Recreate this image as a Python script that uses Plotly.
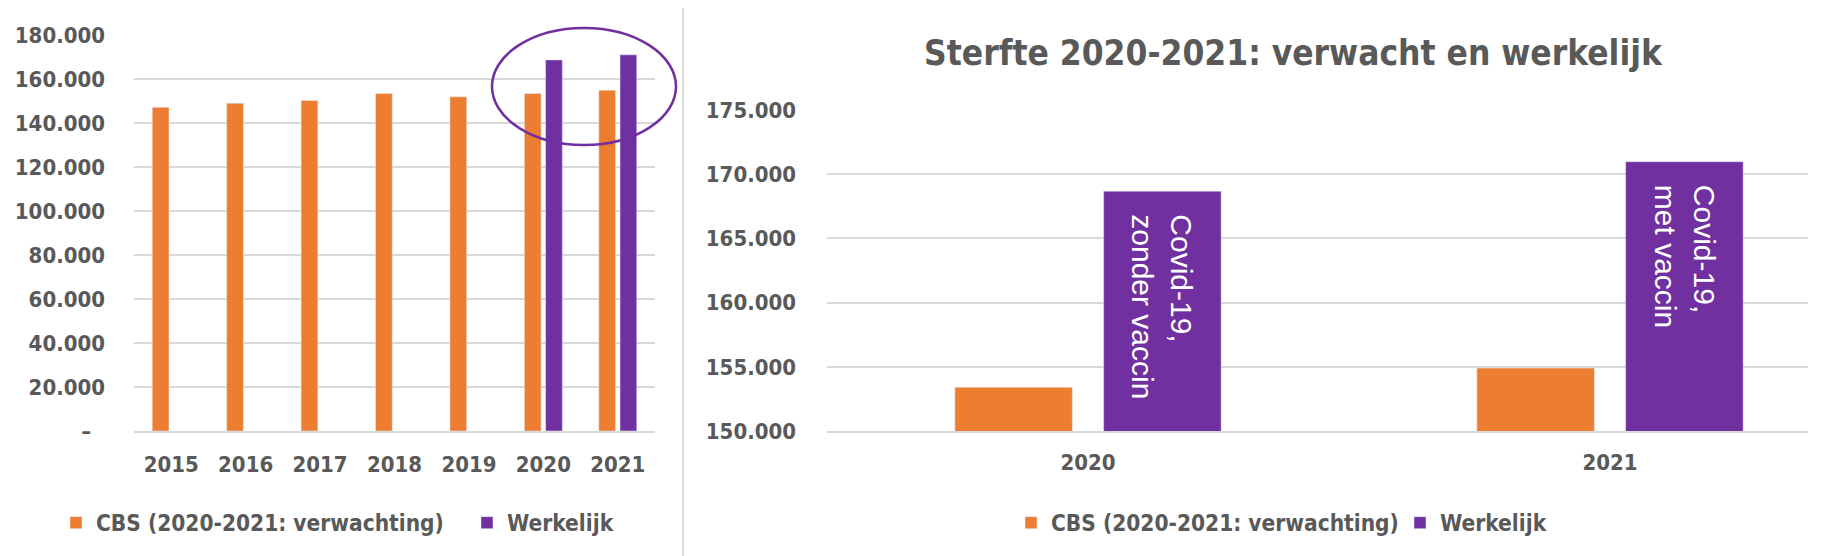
import plotly.graph_objects as go

# ---- data ----
years_all = ["2015", "2016", "2017", "2018", "2019", "2020", "2021"]
cbs_all = [147134, 148997, 150214, 153363, 151885, 153400, 154900]
werkelijk_all = [None, None, None, None, None, 168678, 170972]

years_zoom = ["2020", "2021"]
cbs_zoom = [153400, 154900]
werkelijk_zoom = [168678, 170972]
bar_labels = ["Covid-19,<br>zonder vaccin", "Covid-19,<br>met vaccin"]

left_ticks = [0, 20000, 40000, 60000, 80000, 100000, 120000, 140000, 160000, 180000]
left_ticktext = ["–\u00a0\u00a0", "20.000", "40.000", "60.000", "80.000", "100.000",
                 "120.000", "140.000", "160.000", "180.000"]
right_ticks = [150000, 155000, 160000, 165000, 170000, 175000]
right_ticktext = ["150.000", "155.000", "160.000", "165.000", "170.000", "175.000"]

series_names = ["CBS (2020-2021: verwachting)", "Werkelijk"]
title_text = "Sterfte 2020-2021: verwacht en werkelijk"

# ---- style ----
ORANGE = "#ED7D31"
PURPLE = "#7030A0"
GRID = "#D9D9D9"
TXT = "#595959"
FONT = "DejaVu Sans Condensed, Liberation Sans Narrow, sans-serif"
BARGAP = 0.43
BARGROUPGAP = 0.21

# page has an 8px body margin: figure sized so it fills the window exactly
OFF = 8
FW, FH = 1824 - OFF, 556 - OFF


def px(x):
    return (x - OFF) / FW


def py(y):
    return 1 - (y - OFF) / FH


fig = go.Figure()

fig.add_trace(go.Bar(x=years_all, y=cbs_all, name=series_names[0], marker_color=ORANGE,
                     xaxis="x", yaxis="y", legend="legend"))
fig.add_trace(go.Bar(x=years_all, y=werkelijk_all, name=series_names[1], marker_color=PURPLE,
                     xaxis="x", yaxis="y", legend="legend"))
fig.add_trace(go.Bar(x=years_zoom, y=cbs_zoom, name=series_names[0], marker_color=ORANGE,
                     xaxis="x2", yaxis="y2", legend="legend2"))
fig.add_trace(go.Bar(x=years_zoom, y=werkelijk_zoom, name=series_names[1], marker_color=PURPLE,
                     xaxis="x2", yaxis="y2", legend="legend2"))

# rotated labels inside the purple bars
offset = (1 - BARGAP) / 4
for i, (val, lab) in enumerate(zip(werkelijk_zoom, bar_labels)):
    fig.add_annotation(x=i + offset, y=val, xref="x2", yref="y2", text=lab,
                       showarrow=False, textangle=90, xanchor="center", yanchor="top",
                       align="left", yshift=-21,
                       font=dict(family="Liberation Sans, Arial, sans-serif", size=30, color="white"))

bottom = py(431)
axis_font = dict(family=FONT, size=22, color=TXT, weight="bold")
legend_font = dict(family=FONT, size=22.5, color=TXT, weight="bold")

fig.update_layout(
    width=FW, height=FH,
    margin=dict(l=0, r=0, t=0, b=0, autoexpand=False),
    paper_bgcolor="white", plot_bgcolor="white",
    barmode="group", bargap=BARGAP, bargroupgap=BARGROUPGAP,
    font=dict(family=FONT, color=TXT),
    title=dict(text=title_text, x=px(1293), xanchor="center", xref="paper",
               y=py(53), yanchor="middle", yref="container", automargin=False,
               font=dict(family=FONT, size=35, color=TXT, weight="bold")),
    xaxis=dict(domain=[px(134), px(655)], type="category", range=[-0.5, 6.5],
               showgrid=False, showline=True, linecolor=GRID, linewidth=2, automargin=False,
               ticks="", tickfont=axis_font, ticklabelstandoff=13, anchor="y"),
    yaxis=dict(domain=[bottom, py(35)], range=[0, 180000], automargin=False,
               tickvals=left_ticks, ticktext=left_ticktext,
               showgrid=True, gridcolor=GRID, gridwidth=2, zeroline=False,
               ticks="", tickfont=axis_font, ticklabelstandoff=28, anchor="x"),
    xaxis2=dict(domain=[px(827), px(1808)], type="category", range=[-0.5, -0.5 + 981 / 522],
                showgrid=False, showline=True, linecolor=GRID, linewidth=2, automargin=False,
                ticks="", tickfont=axis_font, ticklabelstandoff=11, anchor="y2"),
    yaxis2=dict(domain=[bottom, py(110)], range=[150000, 175000], automargin=False,
                tickvals=right_ticks, ticktext=right_ticktext,
                showgrid=True, gridcolor=GRID, gridwidth=2, zeroline=False,
                ticks="", tickfont=axis_font, ticklabelstandoff=30, anchor="x2"),
    legend=dict(orientation="h", x=px(56), xanchor="left", y=py(523), yanchor="middle",
                font=legend_font, bgcolor="rgba(0,0,0,0)",
                entrywidth=366, entrywidthmode="pixels", traceorder="normal"),
    legend2=dict(orientation="h", x=px(1011), xanchor="left", y=py(523), yanchor="middle",
                 font=legend_font, bgcolor="rgba(0,0,0,0)",
                 entrywidth=344, entrywidthmode="pixels", traceorder="normal"),
    showlegend=True,
)

# highlight ellipse around 2020-2021 in the left chart
fig.add_shape(type="circle", xref="paper", yref="paper",
              x0=px(492), x1=px(676), y0=py(145), y1=py(28),
              line=dict(color=PURPLE, width=2.5), fillcolor="rgba(0,0,0,0)")
# separator between the two charts
fig.add_shape(type="line", xref="paper", yref="paper",
              x0=px(683), x1=px(683), y0=0, y1=py(6),
              line=dict(color=GRID, width=2))

fig.write_html("out.html")
